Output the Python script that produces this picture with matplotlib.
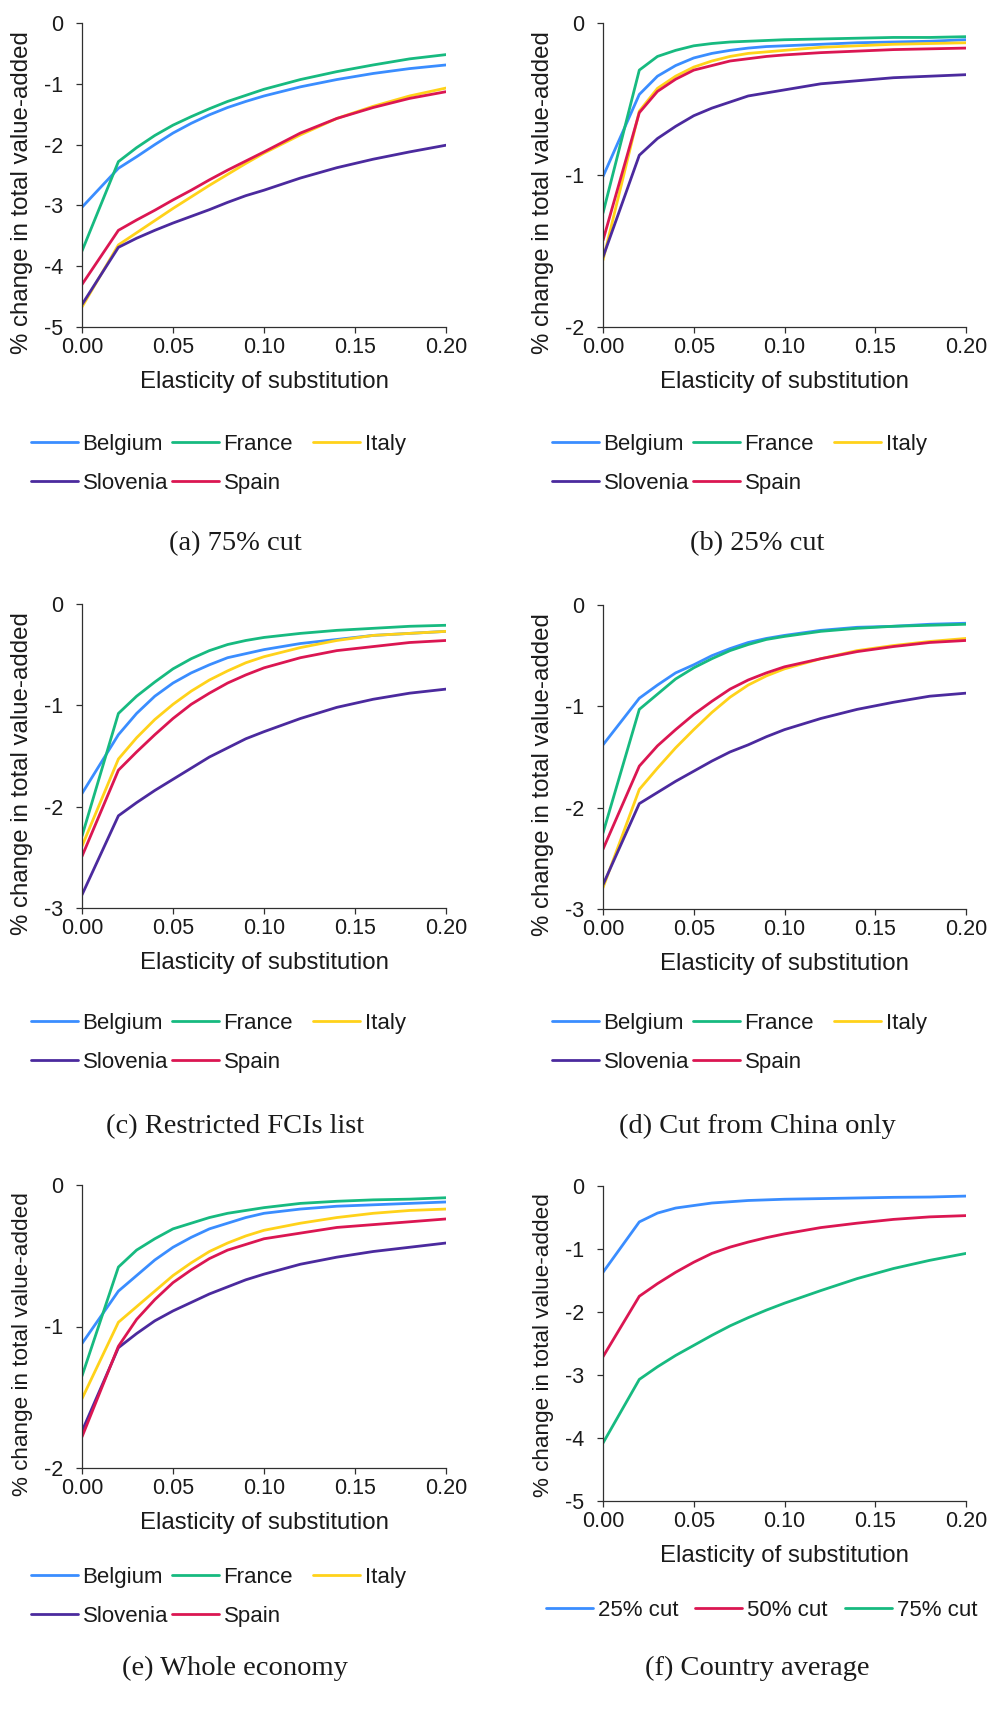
import matplotlib
matplotlib.use("Agg")
import matplotlib.pyplot as plt
from matplotlib.ticker import FormatStrFormatter, MultipleLocator

plt.rcParams['font.family'] = ['Liberation Sans', 'DejaVu Sans']
plt.rcParams['axes.unicode_minus'] = False

# elasticity of substitution grid
sigma = [0.00, 0.02, 0.03, 0.04, 0.05, 0.06, 0.07, 0.08, 0.09, 0.10, 0.12, 0.14, 0.16, 0.18, 0.20]

countries = ['Belgium', 'France', 'Italy', 'Slovenia', 'Spain']
country_colors = ['#3A8DFF', '#17BA80', '#FFD21A', '#4B2A9E', '#DB1652']

# (a) 75% cut
cut75_bel = [-3.03, -2.39, -2.20, -2.00, -1.81, -1.65, -1.51, -1.39, -1.29, -1.20, -1.05, -0.93, -0.83, -0.75, -0.69]
cut75_fra = [-3.75, -2.28, -2.05, -1.85, -1.68, -1.54, -1.41, -1.29, -1.19, -1.09, -0.93, -0.80, -0.69, -0.59, -0.52]
cut75_ita = [-4.67, -3.65, -3.45, -3.25, -3.05, -2.86, -2.67, -2.49, -2.31, -2.14, -1.84, -1.57, -1.37, -1.20, -1.07]
cut75_slo = [-4.63, -3.69, -3.54, -3.41, -3.29, -3.18, -3.07, -2.95, -2.84, -2.75, -2.55, -2.38, -2.24, -2.12, -2.01]
cut75_spa = [-4.30, -3.41, -3.24, -3.08, -2.91, -2.75, -2.58, -2.42, -2.27, -2.12, -1.81, -1.57, -1.39, -1.24, -1.13]

# (b) 25% cut
cut25_bel = [-1.01, -0.47, -0.35, -0.28, -0.23, -0.20, -0.18, -0.165, -0.155, -0.15, -0.14, -0.13, -0.125, -0.12, -0.11]
cut25_fra = [-1.25, -0.31, -0.22, -0.18, -0.15, -0.135, -0.125, -0.12, -0.115, -0.11, -0.105, -0.10, -0.095, -0.095, -0.09]
cut25_ita = [-1.56, -0.58, -0.43, -0.35, -0.29, -0.25, -0.22, -0.20, -0.19, -0.18, -0.16, -0.15, -0.14, -0.135, -0.13]
cut25_slo = [-1.54, -0.87, -0.76, -0.68, -0.61, -0.56, -0.52, -0.48, -0.46, -0.44, -0.40, -0.38, -0.36, -0.35, -0.34]
cut25_spa = [-1.43, -0.59, -0.45, -0.37, -0.31, -0.28, -0.25, -0.235, -0.22, -0.21, -0.195, -0.185, -0.175, -0.17, -0.165]

# (c) restricted FCIs list
fci_bel = [-1.87, -1.29, -1.08, -0.91, -0.78, -0.68, -0.60, -0.53, -0.49, -0.45, -0.39, -0.35, -0.31, -0.29, -0.27]
fci_fra = [-2.29, -1.08, -0.91, -0.77, -0.64, -0.54, -0.46, -0.40, -0.36, -0.33, -0.29, -0.26, -0.24, -0.22, -0.21]
fci_ita = [-2.39, -1.53, -1.32, -1.14, -0.99, -0.86, -0.75, -0.66, -0.58, -0.52, -0.43, -0.36, -0.31, -0.29, -0.27]
fci_slo = [-2.87, -2.09, -1.96, -1.84, -1.73, -1.62, -1.51, -1.42, -1.33, -1.26, -1.13, -1.02, -0.94, -0.88, -0.84]
fci_spa = [-2.49, -1.64, -1.46, -1.29, -1.13, -0.99, -0.88, -0.78, -0.70, -0.63, -0.53, -0.46, -0.42, -0.38, -0.36]

# (d) cut from China only
china_bel = [-1.38, -0.92, -0.79, -0.67, -0.59, -0.50, -0.43, -0.37, -0.33, -0.30, -0.25, -0.22, -0.21, -0.19, -0.18]
china_fra = [-2.25, -1.03, -0.88, -0.73, -0.62, -0.53, -0.45, -0.39, -0.34, -0.31, -0.26, -0.23, -0.21, -0.20, -0.19]
china_ita = [-2.79, -1.82, -1.61, -1.41, -1.23, -1.06, -0.91, -0.79, -0.70, -0.63, -0.53, -0.45, -0.40, -0.36, -0.33]
china_slo = [-2.76, -1.96, -1.85, -1.74, -1.64, -1.54, -1.45, -1.38, -1.30, -1.23, -1.12, -1.03, -0.96, -0.90, -0.87]
china_spa = [-2.41, -1.59, -1.39, -1.23, -1.08, -0.95, -0.83, -0.74, -0.67, -0.61, -0.53, -0.46, -0.41, -0.37, -0.35]

# (e) whole economy
whole_bel = [-1.12, -0.75, -0.64, -0.53, -0.44, -0.37, -0.31, -0.27, -0.23, -0.20, -0.17, -0.15, -0.14, -0.13, -0.12]
whole_fra = [-1.35, -0.58, -0.46, -0.38, -0.31, -0.27, -0.23, -0.20, -0.18, -0.16, -0.13, -0.115, -0.105, -0.10, -0.09]
whole_ita = [-1.51, -0.97, -0.86, -0.75, -0.64, -0.55, -0.47, -0.41, -0.36, -0.32, -0.27, -0.23, -0.20, -0.18, -0.17]
whole_slo = [-1.74, -1.15, -1.05, -0.96, -0.89, -0.83, -0.77, -0.72, -0.67, -0.63, -0.56, -0.51, -0.47, -0.44, -0.41]
whole_spa = [-1.78, -1.14, -0.95, -0.81, -0.69, -0.60, -0.52, -0.46, -0.42, -0.38, -0.34, -0.30, -0.28, -0.26, -0.24]

# (f) country average
avg_labels = ['25% cut', '50% cut', '75% cut']
avg_colors = ['#3A8DFF', '#DB1652', '#17BA80']
avg_25 = [-1.37, -0.57, -0.43, -0.35, -0.31, -0.27, -0.25, -0.23, -0.22, -0.21, -0.20, -0.19, -0.18, -0.175, -0.16]
avg_50 = [-2.71, -1.75, -1.55, -1.37, -1.21, -1.07, -0.97, -0.89, -0.82, -0.76, -0.66, -0.59, -0.53, -0.49, -0.47]
avg_75 = [-4.08, -3.07, -2.87, -2.69, -2.53, -2.37, -2.22, -2.09, -1.97, -1.86, -1.66, -1.47, -1.31, -1.18, -1.07]

W, H = 990, 1720
fig = plt.figure(figsize=(W / 100, H / 100), dpi=100)
fig.patch.set_facecolor('white')

INK = '#1a1a1a'


def make_axes(left, top, right, bottom):
    return fig.add_axes([left / W, 1 - bottom / H, (right - left) / W, (bottom - top) / H])


def style_axes(ax, ymin, box, ylab_size=17.3, ylab_shift=18):
    left, top, right, bottom = box
    w, h = right - left, bottom - top
    ax.set_xlim(0, 0.2)
    ax.set_ylim(ymin, 0)
    ax.xaxis.set_major_locator(MultipleLocator(0.05))
    ax.xaxis.set_major_formatter(FormatStrFormatter('%.2f'))
    ax.yaxis.set_major_locator(MultipleLocator(1))
    for s in ['top', 'right']:
        ax.spines[s].set_visible(False)
    for s in ['left', 'bottom']:
        ax.spines[s].set_color('#303030')
        ax.spines[s].set_linewidth(0.9)
    ax.tick_params(axis='both', direction='out', length=4.3, width=0.9,
                   color='#303030', labelsize=15.5, labelcolor=INK)
    ax.tick_params(axis='y', pad=9.2)
    ax.tick_params(axis='x', pad=3)
    ax.set_xlabel('Elasticity of substitution', fontsize=17.3, color=INK, va='top')
    ax.xaxis.set_label_coords(0.5, -44 / h)
    ax.set_ylabel('% change in total value-added', fontsize=ylab_size, color=INK)
    ax.yaxis.set_label_coords(-49 / w, 0.5 - ylab_shift / h)
    ax.patch.set_alpha(0)


def column_legends(handles, labels, xs, y_top, ncols):
    # one legend per column so the columns sit on a fixed grid
    for c, x in enumerate(xs):
        hs = handles[c::ncols]
        ls = labels[c::ncols]
        fig.legend(hs, ls, loc='upper left', bbox_to_anchor=(x / W, 1 - y_top / H),
                   bbox_transform=fig.transFigure, frameon=False, fontsize=16,
                   borderpad=0, borderaxespad=0, handlelength=2.1, handletextpad=0.22,
                   labelspacing=0.82, labelcolor=INK)


country_panels = [
    ((82, 23, 446, 327), -5, [cut75_bel, cut75_fra, cut75_ita, cut75_slo, cut75_spa], '(a) 75% cut'),
    ((603, 23, 966, 327), -2, [cut25_bel, cut25_fra, cut25_ita, cut25_slo, cut25_spa], '(b) 25% cut'),
    ((82, 604, 446, 908), -3, [fci_bel, fci_fra, fci_ita, fci_slo, fci_spa], '(c) Restricted FCIs list'),
    ((603, 605, 966, 909), -3, [china_bel, china_fra, china_ita, china_slo, china_spa], '(d) Cut from China only'),
    ((82, 1185, 446, 1468), -2, [whole_bel, whole_fra, whole_ita, whole_slo, whole_spa], '(e) Whole economy'),
]

legend_tops = {23: 434, 604: 1013, 605: 1013, 1185: 1567}
caption_y = {23: 550, 604: 1133, 605: 1133, 1185: 1675}

for box, ymin, series, caption in country_panels:
    ax = make_axes(*box)
    handles = []
    for vals, name, col in zip(series, countries, country_colors):
        ln, = ax.plot(sigma, vals, color=col, lw=2.0, label=name, solid_capstyle='round')
        handles.append(ln)
    row3 = box[1] > 1000
    style_axes(ax, ymin, box, ylab_size=16.2 if row3 else 17.3)
    left_col = box[0] < 300
    xs = [31, 172, 313] if left_col else [552, 693, 834]
    column_legends(handles, countries, xs, legend_tops[box[1]], 3)
    fig.text((235 if left_col else 757) / W, 1 - caption_y[box[1]] / H, caption,
             ha='center', va='baseline', fontsize=20.5, family='Liberation Serif', color=INK)

# (f) country average
box_f = (603, 1186, 966, 1501)
ax = make_axes(*box_f)
handles = []
for vals, name, col in zip([avg_25, avg_50, avg_75], avg_labels, avg_colors):
    ln, = ax.plot(sigma, vals, color=col, lw=2.0, label=name, solid_capstyle='round')
    handles.append(ln)
style_axes(ax, -5, box_f, ylab_size=16.2, ylab_shift=2)
column_legends(handles, avg_labels, [546, 695, 845], 1600, 3)
fig.text(757 / W, 1 - 1675 / H, '(f) Country average',
         ha='center', va='baseline', fontsize=20.5, family='Liberation Serif', color=INK)

fig.savefig('out.png', dpi=100, facecolor='white')
